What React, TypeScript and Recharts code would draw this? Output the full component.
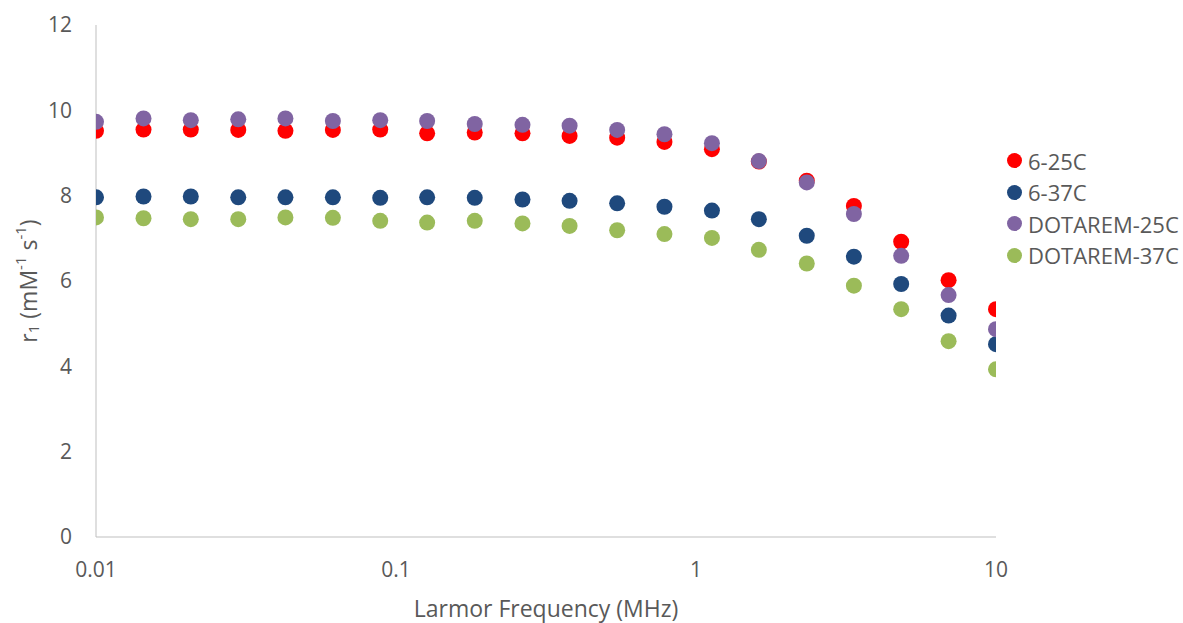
import { ScatterChart, Scatter, XAxis, YAxis, Legend } from "recharts";

const freqMHz = [
  0.01, 0.0144, 0.0207, 0.0298, 0.0428, 0.0616, 0.0886, 0.127, 0.183, 0.264,
  0.379, 0.546, 0.785, 1.13, 1.62, 2.34, 3.36, 4.83, 6.95, 10,
];
const r1_6_25C = [
  9.52, 9.55, 9.55, 9.54, 9.52, 9.54, 9.55, 9.46, 9.48, 9.46,
  9.4, 9.36, 9.26, 9.09, 8.8, 8.35, 7.76, 6.92, 6.02, 5.34,
];
const r1_6_37C = [
  7.96, 7.98, 7.98, 7.96, 7.96, 7.96, 7.95, 7.96, 7.95, 7.91,
  7.88, 7.82, 7.74, 7.65, 7.45, 7.06, 6.57, 5.93, 5.19, 4.52,
];
const r1_dotarem25C = [
  9.73, 9.81, 9.77, 9.79, 9.81, 9.75, 9.77, 9.75, 9.68, 9.66,
  9.64, 9.54, 9.44, 9.23, 8.81, 8.31, 7.57, 6.59, 5.67, 4.87,
];
const r1_dotarem37C = [
  7.49, 7.47, 7.45, 7.45, 7.49, 7.48, 7.41, 7.37, 7.41, 7.35,
  7.29, 7.19, 7.1, 7.01, 6.73, 6.41, 5.89, 5.34, 4.59, 3.93,
];

const seriesNames = ["6-25C", "6-37C", "DOTAREM-25C", "DOTAREM-37C"];
const seriesValues = [r1_6_25C, r1_6_37C, r1_dotarem25C, r1_dotarem37C];
const seriesColors = ["#ff0000", "#1f497d", "#8064a2", "#9bbb59"];

const xTicks = [0.01, 0.1, 1, 10];
const yTicks = [0, 2, 4, 6, 8, 10, 12];

const font = "'Open Sans', sans-serif";
const textColor = "#595959";
const axisColor = "#bfbfbf";

function XTitle(props: any) {
  const vb = props.viewBox || {};
  return (
    <text x={vb.x + vb.width / 2} y={vb.y + 80} textAnchor="middle" fill={textColor} fontSize={23} fontFamily={font}>
      Larmor Frequency (MHz)
    </text>
  );
}

function YTitle(props: any) {
  const vb = props.viewBox || {};
  const cx = vb.x + 28;
  const cy = vb.y + vb.height / 2;
  return (
    <text
      x={cx}
      y={cy}
      transform={`rotate(-90, ${cx}, ${cy})`}
      textAnchor="middle"
      dominantBaseline="central"
      fill={textColor}
      fontSize={23}
      fontFamily={font}
    >
      r<tspan fontSize={15} dy={5}>1</tspan>
      <tspan dy={-5}> (mM</tspan>
      <tspan fontSize={15} dy={-8}>-1</tspan>
      <tspan dy={8}> s</tspan>
      <tspan fontSize={15} dy={-8}>-1</tspan>
      <tspan dy={8}>)</tspan>
    </text>
  );
}

// excel-style round markers, r = 8
function Dot(props: any) {
  return <circle cx={props.cx} cy={props.cy} r={8} fill={props.fill} />;
}

function LegendBox() {
  return (
    <div style={{ fontFamily: font, fontSize: 22, color: textColor }}>
      {seriesNames.map((name, i) => (
        <div key={name} style={{ display: "flex", alignItems: "center", height: 31.5, whiteSpace: "nowrap" }}>
          <span
            style={{
              display: "inline-block",
              width: 15,
              height: 15,
              borderRadius: "50%",
              background: seriesColors[i],
              marginRight: 6,
            }}
          />
          <span>{name}</span>
        </div>
      ))}
    </div>
  );
}

export default function App() {
  return (
    <div style={{ position: "absolute", left: 0, top: 0, background: "#fff" }}>
      <ScatterChart width={1183} height={623} margin={{ top: 25, right: 187, bottom: 0, left: 0 }}>
        <XAxis
          type="number"
          dataKey="x"
          scale="log"
          domain={[0.01, 10]}
          ticks={xTicks}
          allowDataOverflow
          height={86}
          tickLine={false}
          tickSize={0}
          tickMargin={25}
          stroke={axisColor}
          tick={{ fill: textColor, fontSize: 21, fontFamily: font }}
          label={<XTitle />}
        />
        <YAxis
          type="number"
          dataKey="y"
          domain={[0, 12]}
          ticks={yTicks}
          width={96}
          tickLine={false}
          tickSize={0}
          tickMargin={24}
          stroke={axisColor}
          tick={{ fill: textColor, fontSize: 21, fontFamily: font }}
          label={<YTitle />}
        />
        {seriesNames.map((name, i) => (
          <Scatter
            key={name}
            name={name}
            data={freqMHz.map((f, j) => ({ x: f, y: seriesValues[i][j] }))}
            fill={seriesColors[i]}
            shape={<Dot />}
            isAnimationActive={false}
          />
        ))}
        <Legend
          layout="horizontal"
          verticalAlign="middle"
          align="center"
          content={<LegendBox />}
          wrapperStyle={{ left: 1007, top: 145, width: 176 }}
        />
      </ScatterChart>
    </div>
  );
}
